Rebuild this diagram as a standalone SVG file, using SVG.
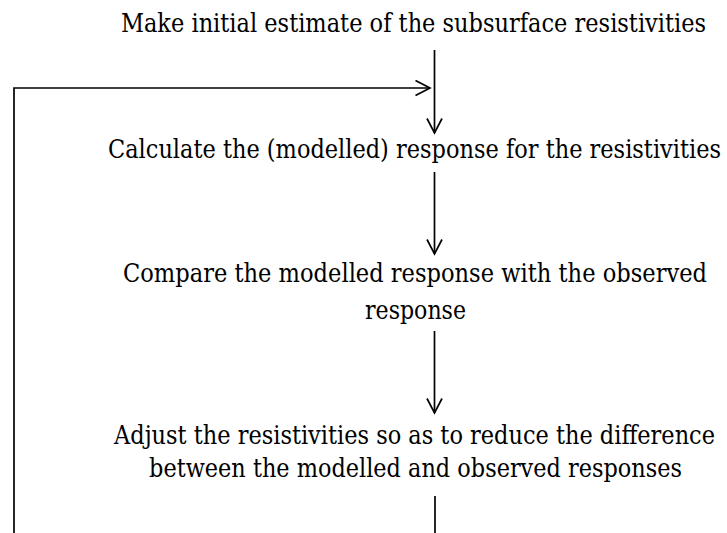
<svg xmlns="http://www.w3.org/2000/svg" width="727" height="533" viewBox="0 0 727 533">
  <style>
    .lbl { font-family: "DejaVu Serif", serif; font-size: 26.5px; fill: #000; text-anchor: middle; }
    .conn { fill: none; stroke: #000; stroke-width: 1.7; }
  </style>
  <defs>
    <marker id="arr" markerUnits="userSpaceOnUse" markerWidth="18" markerHeight="18" viewBox="-1 -1 18 18" refX="14.5" refY="7.5" orient="auto" overflow="visible">
      <path d="M0,0 L14.5,7.5 L0,15" fill="none" stroke="#000" stroke-width="1.7"/>
    </marker>
  </defs>
  <rect width="727" height="533" fill="#fff"/>
  <g id="connectors">
    <path class="conn" d="M434.5,50 V133" marker-end="url(#arr)"/>
    <path class="conn" d="M434.5,172 V254" marker-end="url(#arr)"/>
    <path class="conn" d="M434.5,331 V413" marker-end="url(#arr)"/>
    <path class="conn" d="M435,496 V533"/>
    <path class="conn" d="M14,533 V88 H430" marker-end="url(#arr)"/>
  </g>
  <g id="node-estimate">
    <text class="lbl" transform="translate(413.5,32) scale(0.83,1)" x="0" y="0" textLength="705" lengthAdjust="spacingAndGlyphs">Make initial estimate of the subsurface resistivities</text>
  </g>
  <g id="node-calculate">
    <text class="lbl" transform="translate(414.5,158) scale(0.83,1)" x="0" y="0" textLength="738.5" lengthAdjust="spacingAndGlyphs">Calculate the (modelled) response for the resistivities</text>
  </g>
  <g id="node-compare">
    <text class="lbl" transform="translate(415,282) scale(0.83,1)" x="0" y="0" textLength="703.6" lengthAdjust="spacingAndGlyphs">Compare the modelled response with the observed</text>
    <text class="lbl" transform="translate(415.5,319) scale(0.83,1)" x="0" y="0" textLength="121.7" lengthAdjust="spacingAndGlyphs">response</text>
  </g>
  <g id="node-adjust">
    <text class="lbl" transform="translate(414.5,444) scale(0.83,1)" x="0" y="0" textLength="724" lengthAdjust="spacingAndGlyphs">Adjust the resistivities so as to reduce the difference</text>
    <text class="lbl" transform="translate(415.5,477) scale(0.83,1)" x="0" y="0" textLength="642" lengthAdjust="spacingAndGlyphs">between the modelled and observed responses</text>
  </g>
</svg>
